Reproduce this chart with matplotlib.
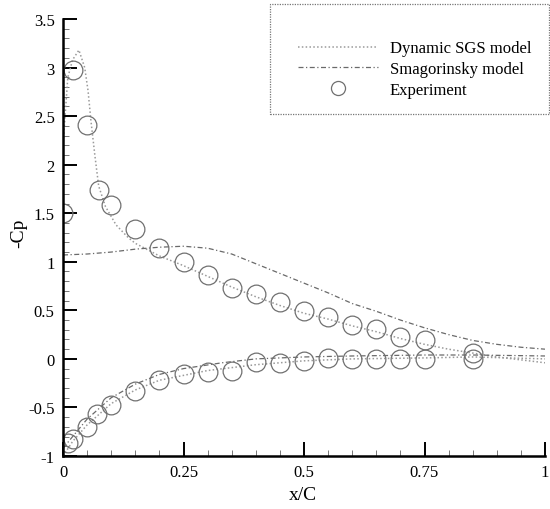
import matplotlib
matplotlib.use("Agg")
import matplotlib.pyplot as plt
from matplotlib.patches import Rectangle
from matplotlib.lines import Line2D
from matplotlib.ticker import MultipleLocator, FixedFormatter, FixedLocator

plt.rcParams['font.family'] = ['Liberation Serif', 'DejaVu Serif']

# --- data ---
dyn_upper_x = [0.0, 0.01, 0.02, 0.033, 0.045, 0.052, 0.058, 0.066, 0.074, 0.088, 0.11, 0.135,
               0.15, 0.2, 0.25, 0.3, 0.35, 0.4, 0.45, 0.5, 0.55, 0.6, 0.65, 0.7, 0.75, 0.8,
               0.85, 0.9, 0.95, 1.0]
dyn_upper_y = [2.2, 2.9, 3.08, 3.18, 3.0, 2.76, 2.45, 2.1, 1.78, 1.57, 1.38, 1.25,
               1.19, 1.06, 0.96, 0.85, 0.74, 0.64, 0.55, 0.47, 0.41, 0.34, 0.28, 0.21, 0.15, 0.10,
               0.06, 0.02, -0.01, -0.04]
dyn_lower_x = [0.0, 0.02, 0.05, 0.1, 0.15, 0.2, 0.3, 0.4, 0.5, 0.6, 0.75, 0.85, 1.0]
dyn_lower_y = [-1.0, -0.85, -0.68, -0.46, -0.32, -0.22, -0.12, -0.06, -0.02, 0.0, 0.01, 0.02, 0.0]

sma_upper_x = [0.0, 0.05, 0.1, 0.15, 0.2, 0.25, 0.3, 0.35, 0.4, 0.45, 0.5, 0.55, 0.6, 0.65,
               0.7, 0.75, 0.8, 0.85, 0.9, 0.95, 1.0]
sma_upper_y = [1.07, 1.08, 1.10, 1.13, 1.15, 1.16, 1.14, 1.08, 0.98, 0.88, 0.78, 0.68, 0.57, 0.49,
               0.40, 0.32, 0.25, 0.19, 0.15, 0.12, 0.10]
sma_lower_x = [0.0, 0.05, 0.1, 0.15, 0.2, 0.25, 0.33, 0.4, 0.5, 0.6, 0.75, 0.85, 1.0]
sma_lower_y = [-0.92, -0.62, -0.40, -0.26, -0.16, -0.10, -0.04, 0.0, 0.02, 0.03, 0.04, 0.04, 0.03]

exp_upper_x = [0.0, 0.02, 0.05, 0.075, 0.10, 0.15, 0.20, 0.25, 0.30, 0.35, 0.40, 0.45, 0.50,
               0.55, 0.60, 0.65, 0.70, 0.75, 0.85]
exp_upper_y = [1.50, 2.97, 2.41, 1.74, 1.58, 1.34, 1.14, 1.00, 0.86, 0.73, 0.67, 0.59, 0.49,
               0.43, 0.35, 0.31, 0.23, 0.19, 0.06]
exp_lower_x = [0.01, 0.02, 0.05, 0.07, 0.10, 0.15, 0.20, 0.25, 0.30, 0.35, 0.40, 0.45, 0.50,
               0.55, 0.60, 0.65, 0.70, 0.75, 0.85]
exp_lower_y = [-0.87, -0.82, -0.70, -0.57, -0.47, -0.33, -0.22, -0.16, -0.13, -0.12, -0.03, -0.04,
               -0.02, 0.01, 0.0, 0.0, 0.0, 0.0, 0.0]

x_ticks = [0, 0.25, 0.5, 0.75, 1]
x_tick_labels = ['0', '0.25', '0.5', '0.75', '1']
y_ticks = [-1, -0.5, 0, 0.5, 1, 1.5, 2, 2.5, 3, 3.5]
y_tick_labels = ['-1', '-0.5', '0', '0.5', '1', '1.5', '2', '2.5', '3', '3.5']

W, H = 550, 510
fig = plt.figure(figsize=(W / 100, H / 100), dpi=100)
ax = fig.add_axes([63 / W, (H - 457) / H, 482 / W, 437 / H])

dyn_style = dict(color='#9a9a9a', linestyle=(0, (1, 1.5)), linewidth=1.1)
sma_style = dict(color='#6a6a6a', linestyle=(0, (4, 2, 1, 2)), linewidth=0.9)
exp_style = dict(linestyle='none', marker='o', markersize=13.5, markerfacecolor='none',
                 markeredgecolor='#707070', markeredgewidth=0.9)

ax.plot(dyn_upper_x, dyn_upper_y, **dyn_style)
ax.plot(dyn_lower_x, dyn_lower_y, **dyn_style)
ax.plot(sma_upper_x, sma_upper_y, **sma_style)
ax.plot(sma_lower_x, sma_lower_y, **sma_style)
ax.plot(exp_upper_x, exp_upper_y, **exp_style)
ax.plot(exp_lower_x, exp_lower_y, **exp_style)

ax.set_xlim(0, 1)
ax.set_ylim(-1, 3.5)
ax.xaxis.set_major_locator(FixedLocator(x_ticks))
ax.xaxis.set_major_formatter(FixedFormatter(x_tick_labels))
ax.yaxis.set_major_locator(FixedLocator(y_ticks))
ax.yaxis.set_major_formatter(FixedFormatter(y_tick_labels))
ax.xaxis.set_minor_locator(MultipleLocator(0.05))
ax.yaxis.set_minor_locator(MultipleLocator(0.1))
ax.tick_params(which='major', direction='in', length=10, width=1.4, labelsize=12, pad=6)
ax.tick_params(which='minor', direction='in', length=4, width=0.7, color='#777777')
for s in ['top', 'right']:
    ax.spines[s].set_visible(False)
for s in ['left', 'bottom']:
    ax.spines[s].set_linewidth(1.8)

ax.set_xlabel('x/C', fontsize=14)
ax.set_ylabel('-Cp', fontsize=14)
ax.xaxis.set_label_coords(0.498, -0.068)
ax.yaxis.set_label_coords(-0.075, 0.513)

# legend box (dotted frame, overlapping the top of the axes)
fig.patches.append(Rectangle((270 / W, (H - 115) / H), 279 / W, 110 / H,
                             transform=fig.transFigure, fill=False,
                             edgecolor='#777777', linestyle=(0, (1, 1)), linewidth=0.9))
handles = [Line2D([], [], **dyn_style), Line2D([], [], **sma_style), Line2D([], [], **exp_style)]
labels = ['Dynamic SGS model', 'Smagorinsky model', 'Experiment']
fig.legend(handles, labels, loc='upper left', bbox_to_anchor=(290 / W, (H - 33) / H),
           frameon=False, fontsize=12, handlelength=4.8, handletextpad=0.7,
           labelspacing=0.28, borderpad=0, markerscale=0.75)

fig.savefig('out.png', dpi=100)
